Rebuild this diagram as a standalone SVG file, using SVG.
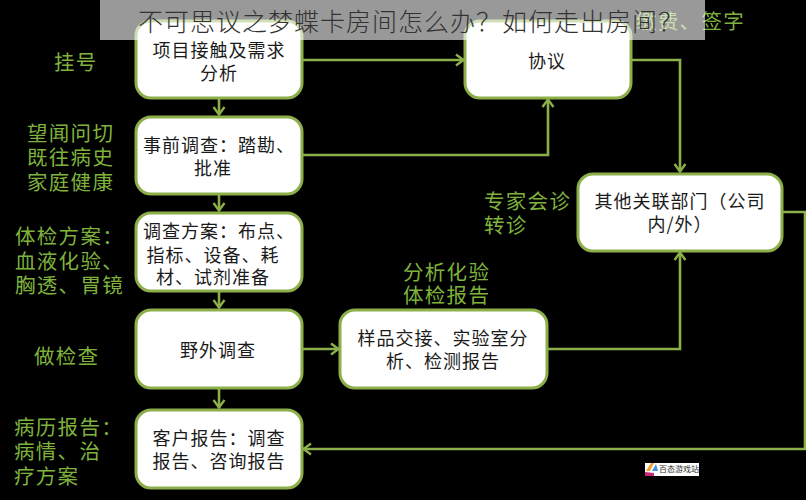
<svg xmlns="http://www.w3.org/2000/svg" width="806" height="500" viewBox="0 0 806 500">
<defs>
<marker id="a" markerUnits="userSpaceOnUse" markerWidth="14" markerHeight="14" refX="11" refY="7" orient="auto"><path d="M3,1.5 L10.5,7 L3,12.5" fill="none" stroke="#8caf4a" stroke-width="2.4"/></marker>
</defs>
<style>
text{font-family:"Noto Sans CJK SC","Liberation Sans",sans-serif}
.n rect{fill:#fff;stroke:#8caf4a;stroke-width:3}
.n text{font-size:18px;fill:#1a1a1a;text-anchor:middle;letter-spacing:1px}
.l{font-size:20.5px;fill:#7fb23c;letter-spacing:1.3px}
.c path{fill:none;stroke:#8caf4a;stroke-width:2.6;marker-end:url(#a)}
</style>
<rect width="806" height="500" fill="#000"/>
<g id="labels">
<text class="l" x="54" y="70">挂号</text>
<text class="l" x="27" y="141">望闻问切</text>
<text class="l" x="27" y="165">既往病史</text>
<text class="l" x="27" y="190">家庭健康</text>
<text class="l" x="15" y="244">体检方案：</text>
<text class="l" x="15" y="269">血液化验、</text>
<text class="l" x="15" y="293">胸透、胃镜</text>
<text class="l" x="34" y="364">做检查</text>
<text class="l" x="14" y="435">病历报告：</text>
<text class="l" x="14" y="459">病情、治</text>
<text class="l" x="14" y="484">疗方案</text>
<text class="l" x="484" y="209">专家会诊</text>
<text class="l" x="484" y="233">转诊</text>
<text class="l" x="403" y="280">分析化验</text>
<text class="l" x="403" y="303">体检报告</text>
<text class="l" x="636" y="29">缴费、签字</text>
</g>
<g id="connectors" class="c">
<path d="M219,98 V115"/>
<path d="M219,194 V211"/>
<path d="M219,291 V308"/>
<path d="M219,388 V408"/>
<path d="M302,60 H464"/>
<path d="M302,155 H548 V99"/>
<path d="M631,60 H680 V172"/>
<path d="M302,349 H339"/>
<path d="M548,349 H680 V252"/>
<path d="M782,212 H805 V449 H303"/>
</g>
<g id="n1" class="n"><rect x="136" y="21" width="166" height="77" rx="15"/><text x="219" y="57">项目接触及需求</text><text x="219" y="80">分析</text></g>
<g id="n2" class="n"><rect x="136" y="117" width="166" height="77" rx="15"/><text x="219" y="152">事前调查：踏勘、</text><text x="213" y="175">批准</text></g>
<g id="n3" class="n"><rect x="136" y="213" width="166" height="78" rx="15"/><text x="219" y="238">调查方案：布点、</text><text x="213" y="262">指标、设备、耗</text><text x="213" y="284">材、试剂准备</text></g>
<g id="n4" class="n"><rect x="136" y="310" width="166" height="78" rx="15"/><text x="218" y="357">野外调查</text></g>
<g id="n5" class="n"><rect x="136" y="410" width="166" height="78" rx="15"/><text x="219" y="445">客户报告：调查</text><text x="219" y="468">报告、咨询报告</text></g>
<g id="n6" class="n"><rect x="465" y="21" width="166" height="77" rx="15"/><text x="547" y="68">协议</text></g>
<g id="n7" class="n"><rect x="578" y="174" width="204" height="77" rx="15"/><text x="680" y="208">其他关联部门（公司</text><text x="680" y="231">内/外）</text></g>
<g id="n8" class="n"><rect x="340" y="310" width="207" height="78" rx="15"/><text x="443" y="345">样品交接、实验室分</text><text x="443" y="368">析、检测报告</text></g>
<g id="logo">
<rect x="645" y="463" width="54" height="13" fill="#fff"/>
<path d="M646,471 L651,463 L654,463 L650,471Z" fill="#f0a030"/>
<path d="M652,471 L656,464 L658,471Z" fill="#3a9ad9"/>
<path d="M645,476 V472 L654,473 V476Z" fill="#c8287a"/>
<text x="659" y="472" font-size="8" fill="#333">百态游戏站</text>
</g>
<g id="banner">
<rect x="100" y="0" width="605" height="40" fill="#fff" fill-opacity=".6"/>
<text x="138" y="31" font-size="25" letter-spacing="1" font-weight="300" fill="#333">不可思议之梦蝶卡房间怎么办？如何走出房间？</text>
</g>
</svg>
